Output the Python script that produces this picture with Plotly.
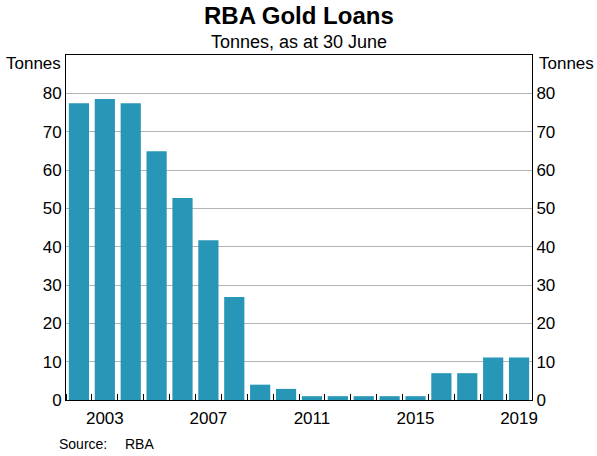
import plotly.graph_objects as go

years = list(range(2002, 2020))
tonnes = [77.4, 78.5, 77.4, 64.9, 52.7, 41.7, 26.9, 4.0, 2.9, 1.0,
          1.0, 1.0, 1.0, 1.0, 7.0, 7.0, 11.1, 11.1]

y_ticks = [0, 10, 20, 30, 40, 50, 60, 70, 80]
x_labels = [2003, 2007, 2011, 2015, 2019]

bar_colour = "#2896b6"
font = "Liberation Sans, Arial, sans-serif"

L, R, T, B = 66, 65, 55, 56
W, H = 597, 456

fig = go.Figure()
fig.add_bar(x=years, y=tonnes, marker_color=bar_colour, marker_line_width=0,
            hoverinfo="x+y")
# invisible copy so the right-hand axis gets drawn
fig.add_scatter(x=years, y=tonnes, yaxis="y2", mode="markers",
                marker_opacity=0, showlegend=False, hoverinfo="skip")

fig.update_layout(
    width=W, height=H,
    margin=dict(l=L, r=R, t=T, b=B),
    paper_bgcolor="white", plot_bgcolor="white",
    font=dict(family=font, size=17, color="black"),
    showlegend=False,
    bargap=0.22,
    xaxis=dict(
        range=[2001.5, 2019.5],
        tickvals=x_labels,
        ticks="", showgrid=False,
        showline=True, linecolor="black", linewidth=1, mirror=True,
        zeroline=False, ticklabelstandoff=3,
        minor=dict(tick0=2001.5, dtick=1, ticks="inside", ticklen=6,
                   tickcolor="black", showgrid=False),
    ),
    yaxis=dict(
        range=[0, 90],
        tickvals=y_ticks,
        showgrid=True, gridcolor="#b4b4b4", gridwidth=1,
        showline=True, linecolor="black", linewidth=1,
        zeroline=False, ticks="",
    ),
    yaxis2=dict(
        range=[0, 90],
        tickvals=y_ticks,
        overlaying="y", side="right",
        showgrid=False,
        showline=True, linecolor="black", linewidth=1,
        zeroline=False, ticks="",
    ),
)

# text placed by pixel position in the 597x456 picture
texts = [
    ("<b>RBA Gold Loans</b>", 298.5, 16, "center", 24),
    ("Tonnes, as at 30 June", 298.5, 42, "center", 18),
    ("Tonnes", 4, 64, "left", 17),
    ("Tonnes", 537, 64, "left", 17),
    ("Source:", 57, 444, "left", 14),
    ("RBA", 123, 444, "left", 14),
]
plot_w = W - L - R
plot_h = H - T - B
for text, px_x, px_y, anchor, size in texts:
    fig.add_annotation(text=text, xref="paper", yref="paper",
                       x=(px_x - L) / plot_w, y=(H - B - px_y) / plot_h,
                       xanchor=anchor, yanchor="middle", showarrow=False,
                       font=dict(size=size))

fig.write_html("out.html", config={"displayModeBar": False},
               post_script="document.body.style.margin='0';")
